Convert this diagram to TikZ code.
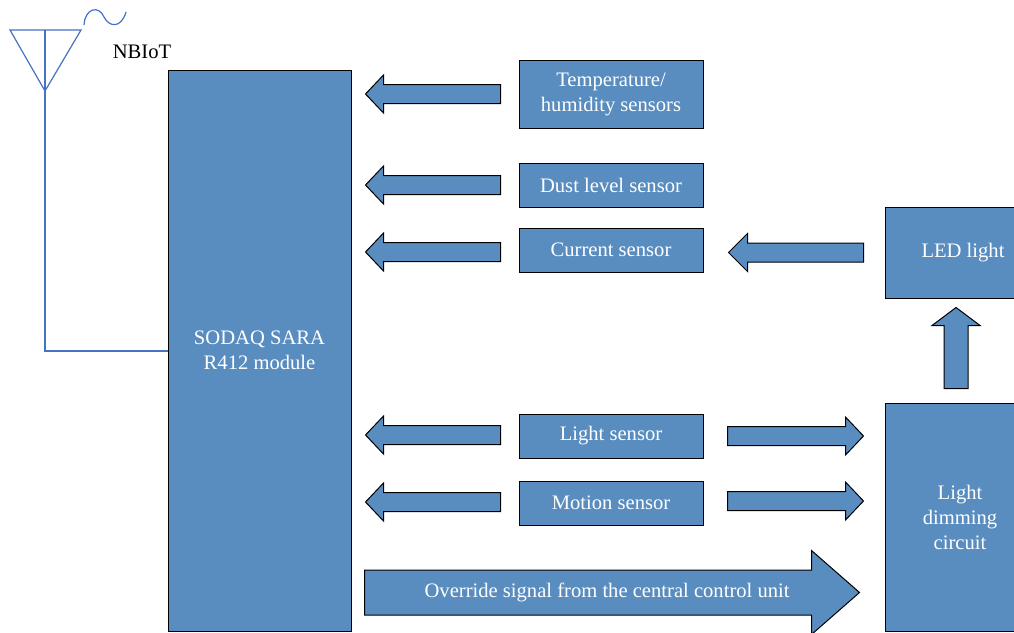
\documentclass[tikz,border=0pt]{standalone}
\usepackage{fontspec}
\setmainfont{Liberation Serif}
\usetikzlibrary{calc}
\definecolor{boxblue}{RGB}{89,141,192}
\definecolor{antblue}{RGB}{68,114,196}
\tikzset{
  blk/.style={draw=black, line width=1pt, fill=boxblue, text=white, align=center,
    inner sep=0pt, minimum width=184pt, minimum height=44pt,
    font=\fontsize{20.6}{25}\selectfont},
  barrow/.style={draw=black, line width=1pt, fill=boxblue},
  antenna/.style={draw=antblue, line width=1.2pt}
}
% block arrow: tail, tip, half shaft, half head, head length
\newcommand{\blockarrow}[5]{%
  \coordinate (ba-t) at #1;
  \coordinate (ba-h) at #2;
  \coordinate (ba-b) at ($(ba-h)!#5!(ba-t)$);
  \draw[barrow] ($(ba-t)!#3!90:(ba-h)$) -- ($(ba-b)!#3!90:(ba-h)$) -- ($(ba-b)!#4!90:(ba-h)$) -- (ba-h)
    -- ($(ba-b)!#4!-90:(ba-h)$) -- ($(ba-b)!#3!-90:(ba-h)$) -- ($(ba-t)!#3!-90:(ba-h)$) -- cycle;
}
\begin{document}
\begin{tikzpicture}[x=1pt, y=-1pt]
\useasboundingbox (0,0) rectangle (1014,632);
\clip (0,0) rectangle (1014,632);

% antenna
\coordinate (ant-l) at (10,30);
\coordinate (ant-r) at (81,30);
\coordinate (ant-top) at (45,30);
\coordinate (ant-v) at (45,91);
\coordinate (ant-foot) at (45,351);
\draw[antenna] (ant-l) -- (ant-r) -- (ant-v) -- cycle;
\draw[antenna] (84,25) .. controls (85,8) and (99,5) .. (104,17) .. controls (109,27) and (121,29) .. (126,12);
\node[font=\fontsize{20.6}{25}\selectfont, inner sep=0pt] (nbiot) at (142,52) {NBIoT};

% blocks
\node[blk, minimum width=183pt, minimum height=561pt] (sodaq) at (259.5,350.5) {SODAQ SARA\\R412 module};
\node[blk, minimum height=68pt] (temp) at (611,94) {Temperature/\\humidity sensors};
\node[blk] (dust) at (611,185) {\raisebox{-3pt}{Dust level sensor}};
\node[blk] (current) at (611,250) {Current sensor};
\node[blk] (light) at (611,436) {Light sensor};
\node[blk] (motion) at (611,503) {Motion sensor};
\node[blk, minimum width=156pt, minimum height=91pt] (led) at (963,252.5) {LED light};
\node[blk, minimum width=150pt, minimum height=228pt] (dim) at (960,517) {Light\\dimming\\circuit};

\draw[antenna] (ant-top) -- (ant-foot) -- (sodaq.west |- ant-foot);

% arrows to the module
\blockarrow{($(temp.west)+(-18,0)$)}{($(sodaq.east |- temp.west)+(14,0)$)}{9.5pt}{19pt}{18pt}
\blockarrow{($(dust.west)+(-18,0)$)}{($(sodaq.east |- dust.west)+(14,0)$)}{9.5pt}{19pt}{18pt}
\blockarrow{($(current.west)+(-18,2)$)}{($(sodaq.east |- current.west)+(14,2)$)}{9.5pt}{19pt}{18pt}
\blockarrow{($(light.west)+(-18,-1)$)}{($(sodaq.east |- light.west)+(14,-1)$)}{9.5pt}{19pt}{18pt}
\blockarrow{($(motion.west)+(-18,-1)$)}{($(sodaq.east |- motion.west)+(14,-1)$)}{9.5pt}{19pt}{18pt}

% arrows on the right
\blockarrow{($(led.west)+(-21,0)$)}{($(current.east |- led.west)+(25,0)$)}{9.5pt}{19pt}{19pt}
\blockarrow{($(dim.north)+(-4,-14)$)}{($(led.south)+(-7,9)$)}{12pt}{24pt}{18pt}
\blockarrow{($(light.east)+(24,0)$)}{($(dim.west |- light.east)+(-21,0)$)}{9.5pt}{19pt}{18pt}
\blockarrow{($(motion.east)+(24,-2)$)}{($(dim.west |- motion.east)+(-21,-2)$)}{9.5pt}{19pt}{18pt}

% override signal
\blockarrow{($(sodaq.south east)+(13,-39)$)}{($(dim.south west)+(-25,-39)$)}{22.5pt}{42pt}{48pt}
\node[text=white, font=\fontsize{20.6}{25}\selectfont, inner sep=0pt] (override) at ($(ba-t)!0.49!(ba-h)$) {Override signal from the central control unit};
\end{tikzpicture}
\end{document}
